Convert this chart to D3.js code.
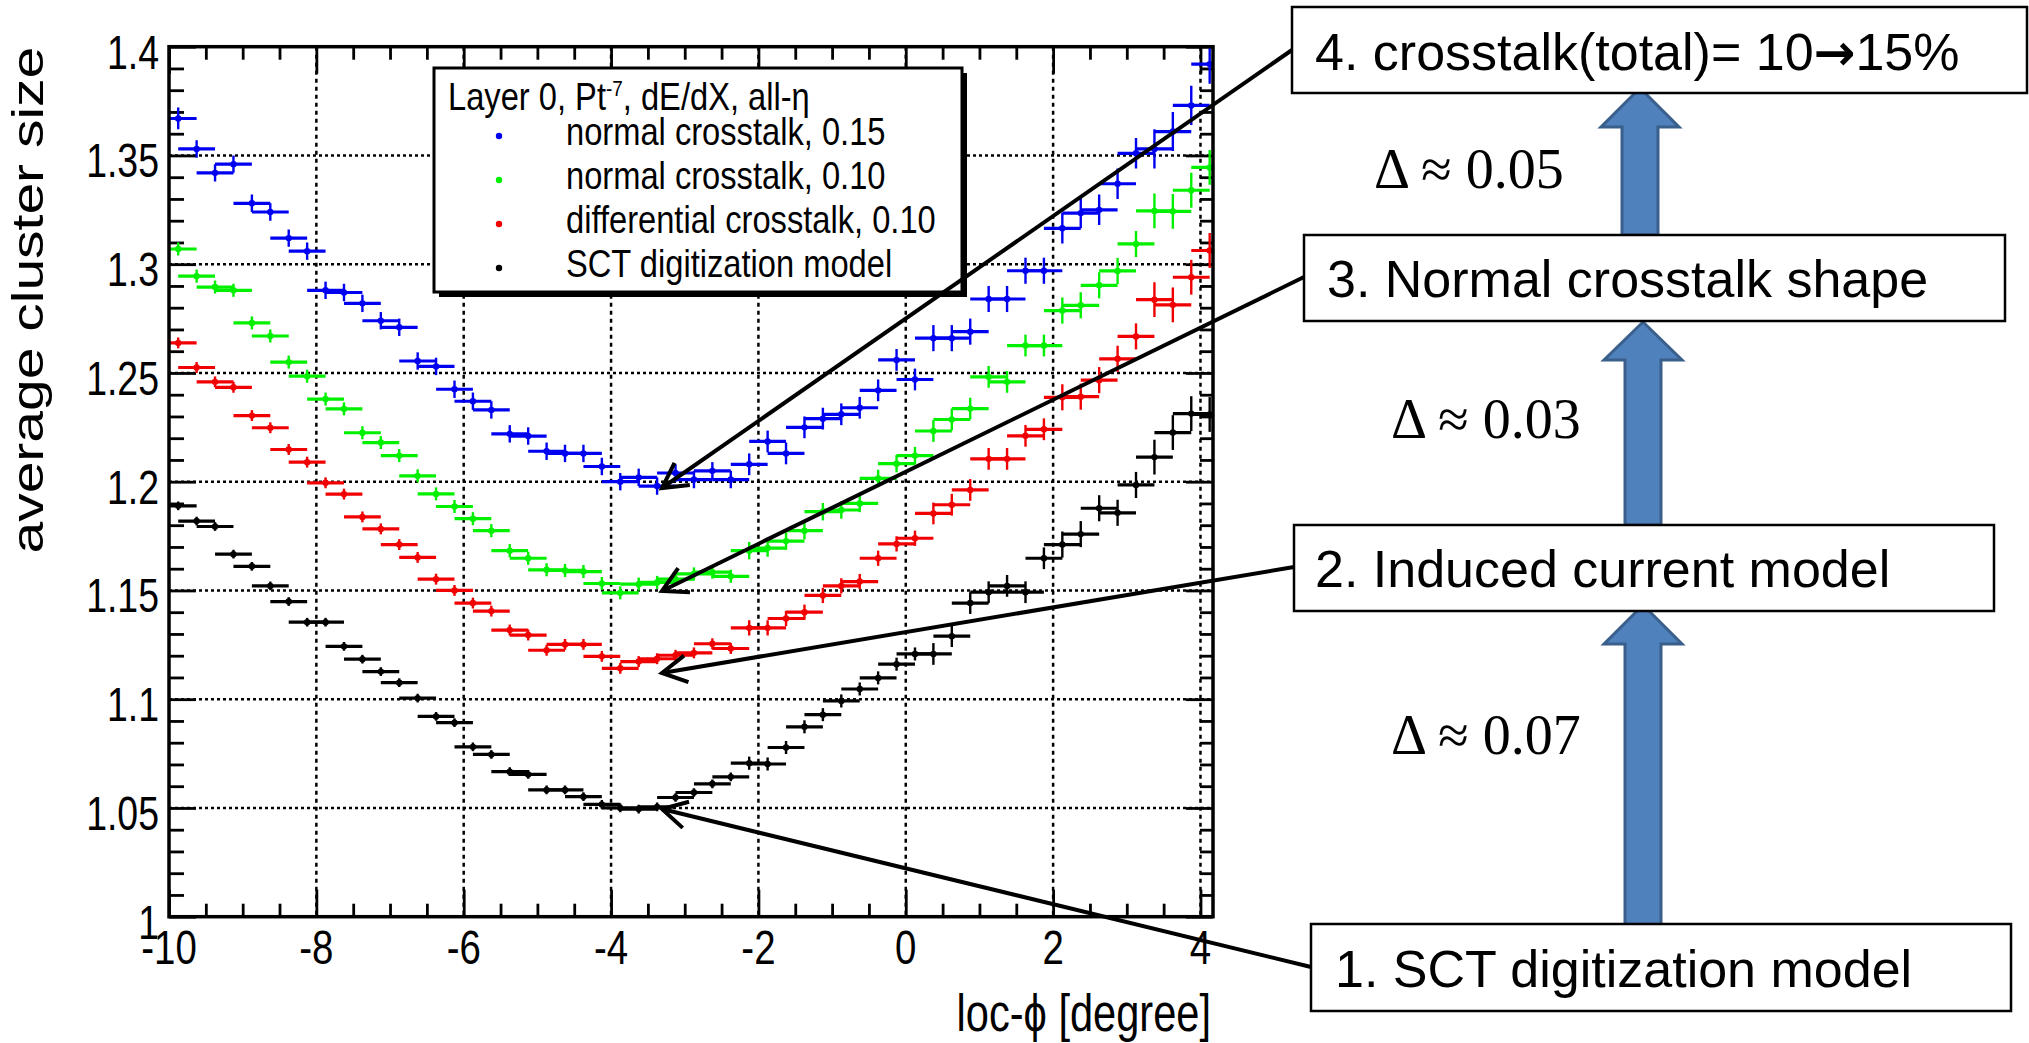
<!DOCTYPE html>
<html>
<head>
<meta charset="utf-8">
<script src="https://cdnjs.cloudflare.com/ajax/libs/d3/7.8.5/d3.min.js"></script>
<style>
body { margin:0; background:#fff; }
svg { display:block; }
</style>
</head>
<body>
<div id="chart"></div>
<script>
// bin centres (degrees)
let locPhi = [-9.875,-9.625,-9.375,-9.125,-8.875,-8.625,-8.375,-8.125,-7.875,-7.625,
    -7.375,-7.125,-6.875,-6.625,-6.375,-6.125,-5.875,-5.625,-5.375,-5.125,
    -4.875,-4.625,-4.375,-4.125,-3.875,-3.625,-3.375,-3.125,-2.875,-2.625,
    -2.375,-2.125,-1.875,-1.625,-1.375,-1.125,-0.875,-0.625,-0.375,-0.125,
    0.125,0.375,0.625,0.875,1.125,1.375,1.625,1.875,2.125,2.375,
    2.625,2.875,3.125,3.375,3.625,3.875,4.125];
let binHalf = 0.25;

let normal015 = [1.367,1.353,1.342,1.346,1.328,1.324,1.312,1.306,1.288,1.287,
    1.282,1.274,1.271,1.2555,1.253,1.2425,1.237,1.233,1.222,1.221,
    1.214,1.213,1.213,1.207,1.200,1.202,1.198,1.204,1.201,1.205,
    1.201,1.208,1.2185,1.213,1.225,1.229,1.231,1.234,1.242,1.256,
    1.247,1.266,1.266,1.269,1.284,1.284,1.297,1.297,1.3165,1.3235,
    1.325,1.337,1.351,1.353,1.361,1.373,1.392];
let normal010 = [1.307,1.2945,1.2895,1.288,1.273,1.267,1.255,1.2485,1.238,1.2335,
    1.2225,1.218,1.212,1.2027,1.1944,1.1886,1.183,1.1775,1.1683,1.1648,
    1.1595,1.1592,1.1587,1.1532,1.1489,1.1529,1.1537,1.1552,1.1576,1.1584,
    1.1565,1.1683,1.1695,1.1727,1.1775,1.1862,1.187,1.19,1.2015,1.2083,
    1.212,1.2233,1.2286,1.2336,1.2482,1.2459,1.2626,1.2626,1.2787,1.2811,
    1.2903,1.2969,1.3093,1.3245,1.3243,1.334,1.3445];
let differential010 = [1.2638,1.2525,1.2459,1.2434,1.2304,1.2248,1.2148,1.209,1.1995,1.1943,
    1.1838,1.1783,1.1711,1.1652,1.1552,1.15,1.1442,1.1405,1.1318,1.1295,
    1.1225,1.1252,1.1252,1.1197,1.1142,1.1173,1.1186,1.1202,1.1213,1.1255,
    1.1233,1.1328,1.1328,1.1371,1.14,1.1477,1.1521,1.1541,1.1648,1.1714,
    1.174,1.1854,1.1894,1.1962,1.2105,1.2105,1.2211,1.2241,1.2388,1.2391,
    1.2467,1.2565,1.2668,1.2837,1.2813,1.294,1.3063];
let sctModel = [1.1889,1.1819,1.1794,1.1667,1.1611,1.1521,1.1449,1.1354,1.1354,1.1243,
    1.1184,1.1127,1.1076,1.1005,1.0921,1.0892,1.0781,1.0746,1.0667,1.0654,
    1.0583,1.0583,1.0552,1.0516,1.05,1.0495,1.0505,1.0548,1.0571,1.0611,
    1.0643,1.0706,1.0702,1.0778,1.0873,1.0929,1.0992,1.1047,1.1098,1.1161,
    1.1208,1.1208,1.129,1.1442,1.1492,1.1521,1.1492,1.1648,1.1711,1.1759,
    1.1878,1.1857,1.1985,1.2113,1.2226,1.2313,1.2309];

// vertical error bars (half length)
let err015 = [0.005,0.004,0.004,0.004,0.004,0.004,0.004,0.004,0.004,0.004,
    0.004,0.004,0.004,0.004,0.004,0.004,0.004,0.004,0.004,0.004,
    0.004,0.004,0.004,0.004,0.004,0.004,0.004,0.004,0.004,0.004,
    0.004,0.005,0.005,0.005,0.005,0.005,0.005,0.005,0.005,0.005,
    0.005,0.006,0.006,0.006,0.006,0.006,0.006,0.006,0.007,0.007,
    0.007,0.007,0.007,0.009,0.009,0.009,0.009];
let err010 = [0.003,0.003,0.003,0.003,0.003,0.003,0.003,0.003,0.003,0.003,
    0.003,0.003,0.003,0.003,0.003,0.003,0.003,0.003,0.003,0.003,
    0.003,0.003,0.003,0.003,0.003,0.003,0.003,0.003,0.003,0.003,
    0.003,0.004,0.004,0.004,0.004,0.004,0.004,0.004,0.004,0.004,
    0.004,0.005,0.005,0.005,0.005,0.005,0.005,0.005,0.006,0.006,
    0.006,0.006,0.006,0.008,0.008,0.008,0.008];
let errDiff = [0.0025,0.0025,0.0025,0.0025,0.0025,0.0025,0.0025,0.0025,0.0025,0.0025,
    0.0025,0.0025,0.0025,0.0025,0.0025,0.0025,0.0025,0.0025,0.0025,0.0025,
    0.0025,0.0025,0.0025,0.0025,0.0025,0.0025,0.0025,0.0025,0.0025,0.0025,
    0.0025,0.0035,0.0035,0.0035,0.0035,0.0035,0.0035,0.0035,0.0035,0.0035,
    0.0035,0.005,0.005,0.005,0.005,0.005,0.005,0.005,0.006,0.006,
    0.006,0.006,0.006,0.008,0.008,0.008,0.008];
let errSct = [0.002,0.002,0.002,0.002,0.002,0.002,0.002,0.002,0.002,0.002,
    0.002,0.002,0.002,0.002,0.002,0.002,0.002,0.002,0.002,0.002,
    0.002,0.002,0.002,0.002,0.002,0.002,0.002,0.002,0.002,0.002,
    0.002,0.003,0.003,0.003,0.003,0.003,0.003,0.003,0.003,0.003,
    0.003,0.005,0.005,0.005,0.005,0.005,0.005,0.005,0.006,0.006,
    0.006,0.006,0.006,0.008,0.008,0.008,0.008];

let seriesNames = ["normal crosstalk, 0.15", "normal crosstalk, 0.10",
                   "differential crosstalk, 0.10", "SCT digitization model"];
let seriesColors = ["#0000f0", "#00f000", "#f00000", "#000000"];

let xMajor = [-10, -8, -6, -4, -2, 0, 2, 4];
let xMinor = [-9.5,-9,-8.5,-7.5,-7,-6.5,-5.5,-5,-4.5,-3.5,-3,-2.5,-1.5,-1,-0.5,0.5,1,1.5,2.5,3,3.5];
let yMajor = [1, 1.05, 1.1, 1.15, 1.2, 1.25, 1.3, 1.35, 1.4];

let boxLabels = ["1. SCT digitization model", "2. Induced current model",
                 "3. Normal crosstalk shape", ["4. crosstalk(total)= 10", "\u2192", "15%"]];
let deltaLabels = ["\u0394 \u2248 0.07", "\u0394 \u2248 0.03", "\u0394 \u2248 0.05"];

let width = 2029, height = 1043;
let plot = {left:169, right:1213, top:46.7, bottom:916.7};

let svg = d3.select("#chart").append("svg")
    .attr("width", width).attr("height", height)
    .style("background", "#fff");

let xScale = d3.scaleLinear().domain([-10, 4.17]).range([plot.left, plot.right]);
let yScale = d3.scaleLinear().domain([1, 1.4]).range([plot.bottom, plot.top]);

let yMinor = d3.range(1.01, 1.4, 0.01).filter(v => !yMajor.some(m => Math.abs(m - v) < 1e-6));

// grid
let grid = svg.append("g");
grid.selectAll(".vgrid").data(xMajor.filter(d => d > -10))
    .enter().append("line")
    .attr("x1", d => xScale(d)).attr("x2", d => xScale(d))
    .attr("y1", plot.top).attr("y2", plot.bottom)
    .attr("stroke", "#000").attr("stroke-width", 2.5).attr("stroke-dasharray", "4,4");
grid.selectAll(".hgrid").data(yMajor.filter(d => d > 1 && d < 1.4))
    .enter().append("line")
    .attr("x1", plot.left).attr("x2", plot.right)
    .attr("y1", d => yScale(d)).attr("y2", d => yScale(d))
    .attr("stroke", "#000").attr("stroke-width", 2.5).attr("stroke-dasharray", "3,3");

// axes (ROOT style, ticks inside on all four sides)
function styleAxis(g) {
    g.select(".domain").remove();
    g.selectAll(".tick line").attr("stroke", "#000").attr("stroke-width", 2.8);
    g.selectAll(".tick text").remove();
}
let axes = svg.append("g");
axes.append("g").attr("transform", "translate(0," + plot.bottom + ")")
    .call(d3.axisBottom(xScale).tickValues(xMajor).tickSize(-27).tickSizeOuter(0)).call(styleAxis);
axes.append("g").attr("transform", "translate(0," + plot.bottom + ")")
    .call(d3.axisBottom(xScale).tickValues(xMinor).tickSize(-13).tickSizeOuter(0)).call(styleAxis);
axes.append("g").attr("transform", "translate(0," + plot.top + ")")
    .call(d3.axisTop(xScale).tickValues(xMajor).tickSize(-27).tickSizeOuter(0)).call(styleAxis);
axes.append("g").attr("transform", "translate(0," + plot.top + ")")
    .call(d3.axisTop(xScale).tickValues(xMinor).tickSize(-13).tickSizeOuter(0)).call(styleAxis);
axes.append("g").attr("transform", "translate(" + plot.left + ",0)")
    .call(d3.axisLeft(yScale).tickValues(yMajor).tickSize(-27).tickSizeOuter(0)).call(styleAxis);
axes.append("g").attr("transform", "translate(" + plot.left + ",0)")
    .call(d3.axisLeft(yScale).tickValues(yMinor).tickSize(-15).tickSizeOuter(0)).call(styleAxis);
axes.append("g").attr("transform", "translate(" + plot.right + ",0)")
    .call(d3.axisRight(yScale).tickValues(yMajor).tickSize(-27).tickSizeOuter(0)).call(styleAxis);
axes.append("g").attr("transform", "translate(" + plot.right + ",0)")
    .call(d3.axisRight(yScale).tickValues(yMinor).tickSize(-13).tickSizeOuter(0)).call(styleAxis);

// data
svg.append("clipPath").attr("id", "plotclip").append("rect")
    .attr("x", plot.left).attr("y", plot.top)
    .attr("width", plot.right - plot.left).attr("height", plot.bottom - plot.top);

let allSeries = [
    {name: seriesNames[3], values: sctModel, errs: errSct, color: seriesColors[3]},
    {name: seriesNames[2], values: differential010, errs: errDiff, color: seriesColors[2]},
    {name: seriesNames[1], values: normal010, errs: err010, color: seriesColors[1]},
    {name: seriesNames[0], values: normal015, errs: err015, color: seriesColors[0]}
];

let dataLayer = svg.append("g").attr("clip-path", "url(#plotclip)");
allSeries.forEach(function(s) {
    let pts = locPhi.map((p, i) => ({x: p, y: s.values[i], e: s.errs[i]}));
    let g = dataLayer.append("g");
    g.selectAll(".hbar").data(pts).enter().append("line")
        .attr("x1", d => xScale(d.x - binHalf)).attr("x2", d => xScale(d.x + binHalf))
        .attr("y1", d => yScale(d.y)).attr("y2", d => yScale(d.y))
        .attr("stroke", s.color).attr("stroke-width", 3.2);
    g.selectAll(".vbar").data(pts).enter().append("line")
        .attr("x1", d => xScale(d.x)).attr("x2", d => xScale(d.x))
        .attr("y1", d => yScale(d.y - d.e)).attr("y2", d => yScale(d.y + d.e))
        .attr("stroke", s.color).attr("stroke-width", 2.4);
    g.selectAll(".dot").data(pts).enter().append("circle")
        .attr("cx", d => xScale(d.x)).attr("cy", d => yScale(d.y))
        .attr("r", 3.2).attr("fill", s.color);
});

// frame
svg.append("rect")
    .attr("x", plot.left).attr("y", plot.top)
    .attr("width", plot.right - plot.left).attr("height", plot.bottom - plot.top)
    .attr("fill", "none").attr("stroke", "#000").attr("stroke-width", 3.5);

// tick labels (narrow, like the original)
let labelFont = "'Liberation Sans', Arial, sans-serif";
svg.selectAll(".xlab").data(xMajor).enter().append("text")
    .attr("transform", d => "translate(" + xScale(d) + ",964) scale(0.8,1)")
    .attr("text-anchor", "middle")
    .attr("font-family", labelFont).attr("font-size", 48)
    .text(d => String(d));
svg.selectAll(".ylab").data(yMajor).enter().append("text")
    .attr("transform", d => "translate(159," + (yScale(d) + 22) + ") scale(0.78,1)")
    .attr("text-anchor", "end")
    .attr("font-family", labelFont).attr("font-size", 48)
    .text(d => String(+d.toFixed(2)));

// axis titles
svg.append("text")
    .attr("transform", "translate(43," + plot.top + ") scale(0.78,1) rotate(-90)")
    .attr("text-anchor", "end")
    .attr("font-family", labelFont).attr("font-size", 57)
    .text("average cluster size");
svg.append("text")
    .attr("transform", "translate(" + (plot.right - 2) + ",1031) scale(0.8,1)")
    .attr("text-anchor", "end")
    .attr("font-family", labelFont).attr("font-size", 52)
    .text("loc-\u03d5 [degree]");

// legend
let legend = svg.append("g");
let lg = {x:434, y:68, w:528, h:224};
legend.append("rect").attr("x", lg.x + 5).attr("y", lg.y + 5)
    .attr("width", lg.w).attr("height", lg.h).attr("fill", "#000");
legend.append("rect").attr("x", lg.x).attr("y", lg.y)
    .attr("width", lg.w).attr("height", lg.h)
    .attr("fill", "#fff").attr("stroke", "#000").attr("stroke-width", 3);
let header = legend.append("text")
    .attr("transform", "translate(448,110) scale(0.86,1)")
    .attr("font-family", labelFont).attr("font-size", 38);
header.append("tspan").text("Layer 0, Pt");
header.append("tspan").attr("font-size", 22).attr("dy", -14).text("-7");
header.append("tspan").attr("dy", 14).text(", dE/dX, all-\u03b7");
legend.selectAll(".lentry").data(seriesNames).enter().append("text")
    .attr("transform", (d, i) => "translate(566," + (145 + i * 44) + ") scale(0.86,1)")
    .attr("font-family", labelFont).attr("font-size", 38)
    .text(d => d);
legend.selectAll(".ldot").data(seriesColors).enter().append("circle")
    .attr("cx", 499).attr("cy", (d, i) => 136 + i * 44)
    .attr("r", 3.2).attr("fill", d => d);

// annotation boxes on the right
let boxes = [
    {x:1311, y:924, w:700, h:87, tx:1335, ty:987},
    {x:1294, y:525, w:700, h:86, tx:1315, ty:587},
    {x:1304, y:235, w:701, h:86, tx:1327, ty:297},
    {x:1292, y:7,   w:735, h:86, tx:1315, ty:70}
];
let ann = svg.append("g");

// callout arrows: box edge -> curve minimum
let callouts = [
    {sx:1311, sy:967, tx:662, ty:809},
    {sx:1294, sy:567, tx:662, ty:673},
    {sx:1304, sy:277, tx:662, ty:591},
    {sx:1292, sy:50,  tx:662, ty:488}
];
callouts.forEach(function(c) {
    ann.append("line").attr("x1", c.sx).attr("y1", c.sy).attr("x2", c.tx).attr("y2", c.ty)
        .attr("stroke", "#000").attr("stroke-width", 4);
    let a = Math.atan2(c.sy - c.ty, c.sx - c.tx), L = 28, da = 0.5;
    let p1 = [c.tx + L * Math.cos(a + da), c.ty + L * Math.sin(a + da)];
    let p2 = [c.tx + L * Math.cos(a - da), c.ty + L * Math.sin(a - da)];
    ann.append("path")
        .attr("d", "M" + p1 + "L" + c.tx + "," + c.ty + "L" + p2)
        .attr("fill", "none").attr("stroke", "#000").attr("stroke-width", 4)
        .attr("stroke-linejoin", "miter");
});

// block arrows between boxes
let blockArrows = [
    {cx:1643, tip:605, base:644, bottom:925},
    {cx:1643, tip:322, base:360, bottom:525},
    {cx:1640, tip:88,  base:127, bottom:235}
];
blockArrows.forEach(function(b) {
    let sh = 18, hh = 39;
    let pts = [[b.cx, b.tip], [b.cx + hh, b.base], [b.cx + sh, b.base], [b.cx + sh, b.bottom],
               [b.cx - sh, b.bottom], [b.cx - sh, b.base], [b.cx - hh, b.base]];
    ann.append("polygon").attr("points", pts.map(p => p.join(",")).join(" "))
        .attr("fill", "#4f81bd").attr("stroke", "#3a5f8b").attr("stroke-width", 3);
});

boxes.forEach(function(b, i) {
    ann.append("rect").attr("x", b.x).attr("y", b.y).attr("width", b.w).attr("height", b.h)
        .attr("fill", "#fff").attr("stroke", "#000").attr("stroke-width", 2.5);
    let t = ann.append("text").attr("x", b.tx).attr("y", b.ty)
        .attr("font-family", labelFont).attr("font-size", 52);
    let lab = boxLabels[i];
    if (Array.isArray(lab)) {
        t.append("tspan").text(lab[0]);
        t.append("tspan").attr("font-family", "'DejaVu Sans', sans-serif")
            .attr("font-weight", "bold").attr("font-size", 50).text(lab[1]);
        t.append("tspan").text(lab[2]);
    } else {
        t.text(lab);
    }
});

let deltaPos = [{x:1391, y:754}, {x:1391, y:438}, {x:1374, y:188}];
deltaPos.forEach(function(p, i) {
    ann.append("text").attr("x", p.x).attr("y", p.y)
        .attr("font-family", "'Liberation Serif', 'Times New Roman', serif")
        .attr("font-size", 56)
        .text(deltaLabels[i]);
});
</script>
</body>
</html>
